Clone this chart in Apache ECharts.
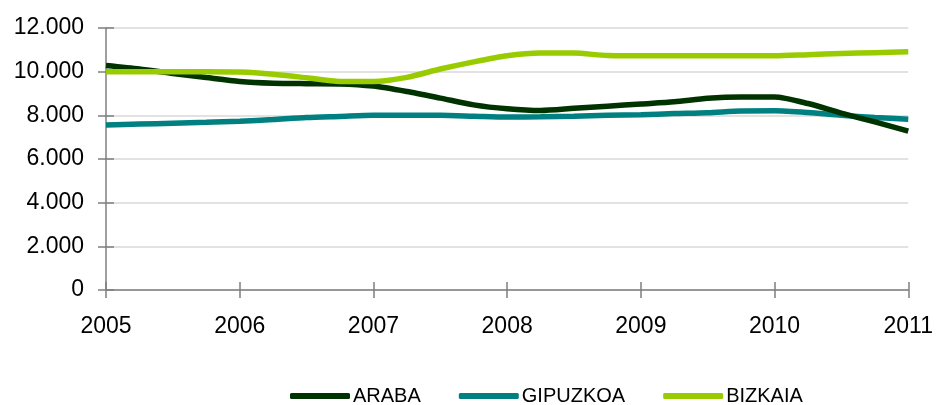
<!DOCTYPE html>
<html>
<head>
<meta charset="utf-8">
<script src="https://cdn.jsdelivr.net/npm/echarts@6/dist/echarts.min.js"></script>
<style>
html,body{margin:0;padding:0;background:#fff;}
#c{width:936px;height:405px;}
</style>
</head>
<body>
<div id="c"></div>
<script>
var categories = [
  '2005','2005 II','2005 III','2005 IV',
  '2006','2006 II','2006 III','2006 IV',
  '2007','2007 II','2007 III','2007 IV',
  '2008','2008 II','2008 III','2008 IV',
  '2009','2009 II','2009 III','2009 IV',
  '2010','2010 II','2010 III','2010 IV',
  '2011'
];
var araba = [10280,10120,9920,9730,9550,9470,9450,9440,9340,9090,8790,8480,8300,8220,8320,8420,8520,8620,8780,8840,8840,8540,8100,7700,7280];
var gipuzkoa = [7560,7600,7640,7680,7730,7810,7900,7950,8000,8000,8000,7960,7920,7930,7960,8000,8030,8080,8120,8200,8210,8130,8000,7900,7820];
var bizkaia = [10000,10000,10000,10000,9980,9880,9720,9550,9550,9740,10120,10450,10730,10850,10850,10740,10730,10730,10730,10730,10730,10780,10830,10870,10910];
var yTicks = [0,2000,4000,6000,8000,10000,12000];

var font = 'Liberation Sans, Arial, sans-serif';
var axisCol = '#7f7f7f';
function fmt(v){ return String(v).replace(/\B(?=(\d{3})+(?!\d))/g,'.'); }

var chart = echarts.init(document.getElementById('c'), null, {renderer:'canvas'});
chart.setOption({
  animation:false,
  backgroundColor:'#fff',
  grid:{left:106,right:27,top:28,bottom:115,containLabel:false},
  legend:{
    bottom:-6, left:285, itemGap:38, itemWidth:60, itemHeight:6,
    icon:'roundRect',
    textStyle:{fontFamily:font,fontSize:20,color:'#000',padding:[0,0,0,-2]},
    data:['ARABA','GIPUZKOA','BIZKAIA']
  },
  xAxis:[{
    type:'category', data:categories, boundaryGap:false,
    axisLine:{lineStyle:{color:axisCol,width:1.5}},
    axisTick:{show:true,interval:3,length:8,inside:false,lineStyle:{color:axisCol,width:1.5}},
    axisLabel:{interval:3,margin:25,fontFamily:font,fontSize:23,color:'#000',
      formatter:function(v){return v.slice(0,4);}},
    splitLine:{show:false}
  },{
    type:'category', data:categories, boundaryGap:false, position:'bottom',
    axisLine:{show:false},
    axisTick:{show:true,interval:3,length:8,inside:true,lineStyle:{color:axisCol,width:1.5}},
    axisLabel:{show:false}, splitLine:{show:false}
  }],
  yAxis:[{
    type:'value', min:yTicks[0], max:yTicks[yTicks.length-1], interval:2000,
    axisLine:{show:true,lineStyle:{color:axisCol,width:1.5}},
    axisTick:{show:true,length:8,inside:false,lineStyle:{color:axisCol,width:1.5}},
    axisLabel:{margin:22,fontFamily:font,fontSize:23,color:'#000',formatter:fmt},
    splitLine:{show:true,lineStyle:{color:'#d9d9d9',width:1.5}}
  },{
    type:'value', min:yTicks[0], max:yTicks[yTicks.length-1], interval:2000, position:'left',
    axisLine:{show:false},
    axisTick:{show:true,length:8,inside:true,lineStyle:{color:axisCol,width:1.5}},
    axisLabel:{show:false}, splitLine:{show:false}
  }],
  series:[
    {name:'ARABA',type:'line',data:araba,smooth:0.25,showSymbol:false,symbol:'none',
      lineStyle:{color:'#003300',width:5.5},itemStyle:{color:'#003300'},z:3},
    {name:'GIPUZKOA',type:'line',data:gipuzkoa,smooth:0.25,showSymbol:false,symbol:'none',
      lineStyle:{color:'#008080',width:5.5},itemStyle:{color:'#008080'},z:2},
    {name:'BIZKAIA',type:'line',data:bizkaia,smooth:0.25,showSymbol:false,symbol:'none',
      lineStyle:{color:'#99cc00',width:5.5},itemStyle:{color:'#99cc00'},z:4}
  ]
});
</script>
</body>
</html>
